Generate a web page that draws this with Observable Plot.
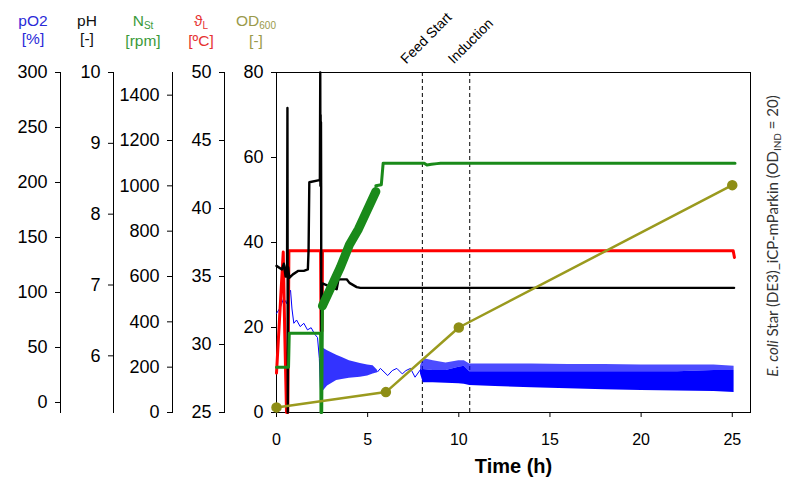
<!DOCTYPE html>
<html><head><meta charset="utf-8">
<script src="https://cdn.jsdelivr.net/npm/d3@7"></script>
<script src="https://cdn.jsdelivr.net/npm/@observablehq/plot@0.6"></script>
<style>
body{margin:0;background:#fff}
#chart{position:relative;width:787px;height:487px;overflow:hidden;font-family:"Liberation Sans",Arial,sans-serif;background:#fff}
#chart svg{position:absolute;top:0}
.hdr{position:absolute;top:12px;width:70px;text-align:center;font-size:15.5px;line-height:18px}
.hdr sub{font-size:10px;vertical-align:baseline;position:relative;top:3px}
#side{position:absolute;left:612px;top:227px;width:320px;text-align:center;font-family:Lato,"Open Sans",sans-serif;font-size:15px;color:#333;transform:rotate(-90deg);transform-origin:160px 9px;line-height:18px;white-space:nowrap}
#side sub{font-size:10px;vertical-align:baseline;position:relative;top:3px}
</style></head><body><div id="chart"></div>
<script>
// ---- axis ticks ----
const xTicks = [0, 5, 10, 15, 20, 25];
const odTicks = [0, 20, 40, 60, 80];
const pO2Ticks = [0, 50, 100, 150, 200, 250, 300];
const pHTicks = [6, 7, 8, 9, 10];
const rpmTicks = [0, 200, 400, 600, 800, 1000, 1200, 1400];
const tempTicks = [25, 30, 35, 40, 45, 50];

// ---- events ----
const eventLabels = ["Feed Start", "Induction"];
const eventTimes = [8, 10.6];

// ---- OD600 (main axis) ----
const odTime = [0, 6, 10, 25];
const odValue = [1.2, 4.8, 20, 53.5];

// ---- temperature (°C) ----
const tempTime = [0, 0.37, 0.45, 0.55, 0.62, 0.68, 2.42, 2.44, 2.5, 2.52, 25.05, 25.12];
const tempValue = [27.9, 36.8, 31, 25, 25, 36.9, 36.9, 31, 31, 36.9, 36.9, 36.4];

// ---- pH ----
const pHTime = [0, 0.3, 0.4, 0.5, 0.58, 0.6, 0.62, 0.64, 0.7, 0.9, 1.2, 1.5, 1.72, 1.76, 1.8, 2.35,
  2.38, 2.4, 2.41, 2.42, 2.43, 2.44, 2.45, 2.46, 2.5, 2.55, 3.0, 3.3, 3.4, 3.85, 4.0, 4.4, 4.6, 25.1];
const pHValue = [7.27, 7.22, 7.3, 7.12, 7.3, 9.5, 5.2, 7.25, 7.1, 7.15, 7.2, 7.2, 7.22, 7.5, 8.45, 8.48,
  8.5, 10, 8.4, 9.4, 8.5, 9.3, 8.4, 5.2, 7.0, 7.02, 6.97, 6.94, 7.08, 7.08, 7.03, 6.97, 6.96, 6.96];

// ---- stirrer speed (rpm) ----
const rpmTime = [0, 0.66, 0.7, 2.42, 2.44, 2.48, 2.52];
const rpmValue = [200, 200, 350, 350, 0, 0, 470];
const rpmRampTime = [2.52, 3.5, 4.0, 4.5, 5.45];
const rpmRampValue = [470, 640, 740, 810, 975];
const rpmTopTime = [5.45, 5.75, 5.85, 8.1, 8.25, 8.5, 8.8, 9.0, 25.15];
const rpmTopValue = [1000, 1005, 1100, 1100, 1092, 1095, 1098, 1100, 1100];

// ---- pO2 (%) ----
const pO2Time = [0, 0.2, 0.4, 0.55, 0.7, 0.77, 0.85, 0.95, 1.1, 1.3, 1.5, 1.7, 1.9, 2.1, 2.25, 2.35, 2.42];
const pO2Value = [81, 86, 95, 90, 100, 102, 85, 72, 75, 69, 72, 66, 68, 62, 59, 40, 8];
const pO2WiggleTime = [5.55, 5.7, 6.1, 6.35, 6.6, 6.9, 7.1, 7.35, 7.6, 7.9];
const pO2WiggleValue = [28, 31, 24.5, 29, 31, 26, 29, 31, 23, 30];
const pO2BandTime = [2.42, 2.5, 2.8, 3.3, 3.6, 4.0, 4.6, 5.0, 5.3, 5.55];
const pO2BandLow = [8, 9, 15, 20, 21, 22, 23, 24, 26, 27];
const pO2BandHigh = [40, 50, 47, 43, 41, 38, 35.5, 34, 33.5, 29];
const pO2Band2Time = [7.9, 8.05, 8.6, 9.3, 10.0, 10.3, 10.6, 12, 14, 16, 18, 20, 22, 24, 25.1];
const pO2Band2Low = [26, 18, 18, 17.5, 17, 16.5, 15.5, 14.5, 13.5, 12.5, 11.5, 11, 10.5, 10, 9];
const pO2Band2Body = [29, 30, 29, 29, 32, 33, 28, 28, 28, 28, 28, 28, 28, 29, 29];
const pO2Band2Spike = [33, 40, 38, 36, 38, 38, 35, 35, 35, 34.5, 34.5, 34, 34, 34, 33];

const BLUE = "#0000ff", GREEN = "#1a8a1a", RED = "#ff0000", OLIVE = "#9a9a1e", OLIVE_DOT = "#8e8e16";
const FONT = "Liberation Sans, Arial, sans-serif";

const zip = (t, v) => t.map((x, i) => ({t: x, v: v[i]}));
const chart = document.getElementById("chart");
const W = 787, H = 487, ML = 276, MR = 37, MT = 72, MB = 75;
const fmt = d => String(d);

function add(svg, left) { svg.style.left = left + "px"; chart.appendChild(svg); }

function layer(yDomain, marks) {
  return Plot.plot({
    width: W, height: H, marginLeft: ML, marginRight: MR, marginTop: MT, marginBottom: MB,
    x: {domain: [0, 26], axis: null}, y: {domain: yDomain, axis: null},
    style: {background: "transparent", fontFamily: FONT},
    marks
  });
}

// main plot (frame, axes, events)
const events = eventLabels.map((label, i) => ({label, t: eventTimes[i]}));
add(Plot.plot({
  width: W, height: H, marginLeft: ML, marginRight: MR, marginTop: MT, marginBottom: MB,
  x: {domain: [0, 26]}, y: {domain: [0, 80]},
  style: {background: "white", fontFamily: FONT, color: "black"},
  marks: [
    Plot.ruleX(events, {x: "t", stroke: "black", strokeWidth: 1, strokeDasharray: "4,3"}),
    Plot.frame({stroke: "black"}),
    Plot.axisY({ticks: odTicks, tickSize: 5, tickPadding: 8, fontSize: 18, label: null, tickFormat: fmt}),
    Plot.axisX({ticks: xTicks, tickSize: 5, tickPadding: 16, fontSize: 16, label: null, tickFormat: fmt}),
    Plot.text(events, {x: "t", text: "label", frameAnchor: "top", rotate: -45, textAnchor: "start",
      lineAnchor: "bottom", dx: -16, dy: -8, fontSize: 14}),
    Plot.text(["Time (h)"], {frameAnchor: "bottom", dy: 60, fontSize: 20, fontWeight: "bold"})
  ]
}), 0);

// side axes
function sideAxis(domain, ticks, axisX) {
  add(Plot.plot({
    width: 64, height: H, marginLeft: 60, marginRight: 4, marginTop: MT, marginBottom: MB,
    y: {domain},
    style: {background: "transparent", fontFamily: FONT, color: "black"},
    marks: [
      Plot.frame({anchor: "left", stroke: "black"}),
      Plot.axisY({ticks, tickSize: 5, tickPadding: 8, fontSize: 18, label: null, tickFormat: fmt})
    ]
  }), axisX - 60);
}
sideAxis([-9.1, 300], pO2Ticks, 60);
sideAxis([5.2, 10], pHTicks, 113);
sideAxis([0, 1500], rpmTicks, 172);
sideAxis([25, 50], tempTicks, 224);

// pO2 layer
const band1 = pO2BandTime.map((t, i) => ({t, lo: pO2BandLow[i], hi: pO2BandHigh[i]}));
const band2 = pO2Band2Time.map((t, i) => ({t, lo: pO2Band2Low[i], body: pO2Band2Body[i], hi: pO2Band2Spike[i]}));
add(layer([-9.1, 300], [
  Plot.areaY(band1, {x: "t", y1: "lo", y2: "hi", fill: BLUE, fillOpacity: 0.8}),
  Plot.areaY(band2, {x: "t", y1: "body", y2: "hi", fill: BLUE, fillOpacity: 0.7}),
  Plot.areaY(band2, {x: "t", y1: "lo", y2: "body", fill: BLUE}),
  Plot.line(zip(pO2Time, pO2Value), {x: "t", y: "v", stroke: BLUE, strokeWidth: 1}),
  Plot.line(zip(pO2WiggleTime, pO2WiggleValue), {x: "t", y: "v", stroke: BLUE, strokeWidth: 1})
]), 0);

// temperature layer
add(layer([25, 50], [
  Plot.line(zip(tempTime, tempValue), {x: "t", y: "v", stroke: RED, strokeWidth: 3})
]), 0);

// pH layer
add(layer([5.2, 10], [
  Plot.line(zip(pHTime, pHValue), {x: "t", y: "v", stroke: "black", strokeWidth: 2.4})
]), 0);

// stirrer layer
add(layer([0, 1500], [
  Plot.line(zip(rpmTime, rpmValue), {x: "t", y: "v", stroke: GREEN, strokeWidth: 3}),
  Plot.line(zip(rpmRampTime, rpmRampValue), {x: "t", y: "v", stroke: GREEN, strokeWidth: 9}),
  Plot.line(zip(rpmTopTime, rpmTopValue), {x: "t", y: "v", stroke: GREEN, strokeWidth: 3})
]), 0);

// OD600 layer
const od = zip(odTime, odValue);
add(layer([0, 80], [
  Plot.line(od, {x: "t", y: "v", stroke: OLIVE, strokeWidth: 2.5}),
  Plot.dot(od, {x: "t", y: "v", r: 4.5, fill: OLIVE_DOT, stroke: OLIVE_DOT})
]), 0);

// headers
const headers = [
  {cx: 33, color: "#2a2ad8", html: "pO2<br>[%]"},
  {cx: 87, color: "#111", html: "pH<br>[-]"},
  {cx: 143, color: "#3a9a3a", html: "N<sub>St</sub><br>[rpm]"},
  {cx: 201, color: "#e63232", html: "ϑ<sub>L</sub><br>[ºC]"},
  {cx: 256, color: "#9a9a4a", html: "OD<sub>600</sub><br>[-]"}
];
for (const h of headers) {
  const d = document.createElement("div");
  d.className = "hdr";
  d.style.left = (h.cx - 35) + "px";
  d.style.color = h.color;
  d.innerHTML = h.html;
  chart.appendChild(d);
}
const side = document.createElement("div");
side.id = "side";
side.innerHTML = "<i>E. coli</i> Star (DE3)_iCP-mParkin (OD<sub>IND</sub> = 20)";
chart.appendChild(side);
</script></body></html>
